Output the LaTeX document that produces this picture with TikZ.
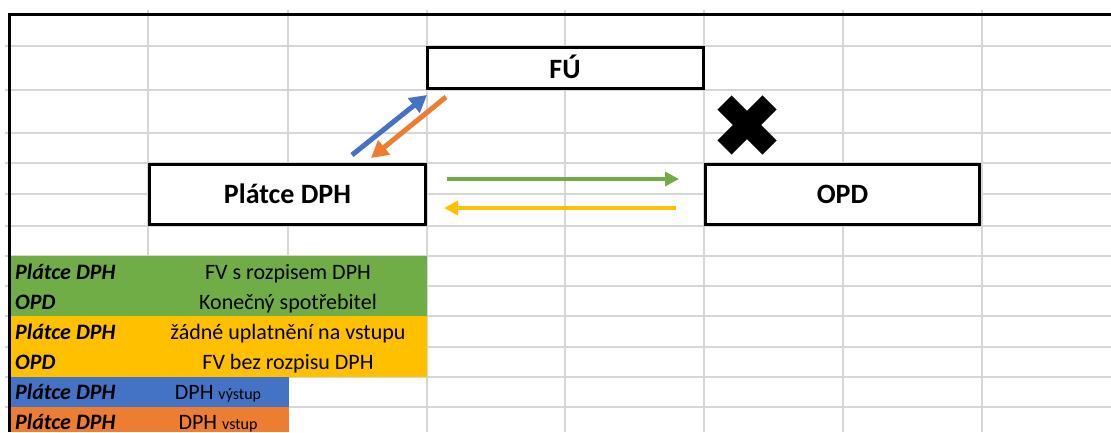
\documentclass[tikz,border=0pt]{standalone}
\usepackage{fontspec}
\setmainfont{Carlito}
\usetikzlibrary{arrows.meta}
\definecolor{gridc}{RGB}{214,214,214}
\definecolor{xlgreen}{RGB}{112,173,71}
\definecolor{xlyellow}{RGB}{255,192,0}
\definecolor{xlblue}{RGB}{68,114,196}
\definecolor{xlorange}{RGB}{237,125,49}
\begin{document}
\begin{tikzpicture}[x=1pt,y=-1pt,
  gridline/.style={draw=gridc,line width=1.3pt},
  box/.style={draw=black,line width=3pt,fill=white,inner sep=0pt,
    font=\fontsize{28}{30}\selectfont\bfseries,text height=17pt,text depth=0pt},
  flow/.style={line width=4.5pt,-{Triangle[length=14pt,width=14pt]}},
  diagflow/.style={line width=5pt,-{Triangle[length=17pt,width=18pt]}},
  legA/.style={anchor=base west,inner sep=0pt,font=\fontsize{22}{24}\selectfont\bfseries\itshape},
  legB/.style={anchor=base,inner sep=0pt,font=\fontsize{22}{24}\selectfont}]
\useasboundingbox (0,0) rectangle (1111,432);
\fill[white] (0,0) rectangle (1111,432);
% sheet grid
\foreach \x in {148,288,427,565,704,843,982} \draw[gridline] (\x,10) -- (\x,432);
\foreach \y in {46,90,133,163,194,226,256,286,316,347,377,407} \draw[gridline] (5,\y) -- (1111,\y);
% legend fills
\fill[xlgreen] (9,256) rectangle (427,316);
\fill[xlyellow] (9,316) rectangle (427,377);
\fill[xlblue] (9,377) rectangle (289,407);
\fill[xlorange] (9,407) rectangle (289,432);
% frame
\draw[line width=3pt] (9,432) -- (9,14) -- (1111,14);
% boxes
\node[box,minimum width=276pt,minimum height=41pt,text height=21pt] (fu) at (565,67.5) {FÚ};
\node[box,minimum width=276pt,minimum height=60pt] (platce) at (287.5,194.5) {Plátce DPH};
\node[box,minimum width=274pt,minimum height=60pt] (opd) at (842.5,194.5) {OPD};
% arrows
\coordinate (b1) at (352,155);
\coordinate (b2) at (427,95);
\coordinate (o1) at (446,97);
\coordinate (o2) at (371,158);
\coordinate (g1) at (447,179);
\coordinate (g2) at (679,179);
\coordinate (y1) at (676,208);
\coordinate (y2) at (444,208);
\draw[diagflow,xlblue] (b1) -- (b2);
\draw[diagflow,xlorange] (o1) -- (o2);
\draw[flow,xlgreen] (g1) -- (g2);
\draw[flow,xlyellow] (y1) -- (y2);
% cross
\coordinate (xc) at (747,125);
\draw[line width=20pt] (724.5,102.5) -- (769.5,147.5);
\draw[line width=20pt] (769.5,102.5) -- (724.5,147.5);
% legend text
\node[legA] (l1a) at (15,279) {Plátce DPH};
\node[legB] (l1b) at (288,279) {FV s rozpisem DPH};
\node[legA] (l2a) at (15,309) {OPD};
\node[legB] (l2b) at (288,309) {Konečný spotřebitel};
\node[legA] (l3a) at (15,339) {Plátce DPH};
\node[legB] (l3b) at (288,339) {žádné uplatnění na vstupu};
\node[legA] (l4a) at (15,369) {OPD};
\node[legB] (l4b) at (288,369) {FV bez rozpisu DPH};
\node[legA] (l5a) at (15,399) {Plátce DPH};
\node[legB] (l5b) at (218,399) {DPH {\fontsize{16}{18}\selectfont výstup}};
\node[legA] (l6a) at (15,429) {Plátce DPH};
\node[legB] (l6b) at (218,429) {DPH {\fontsize{16}{18}\selectfont vstup}};
\end{tikzpicture}
\end{document}
